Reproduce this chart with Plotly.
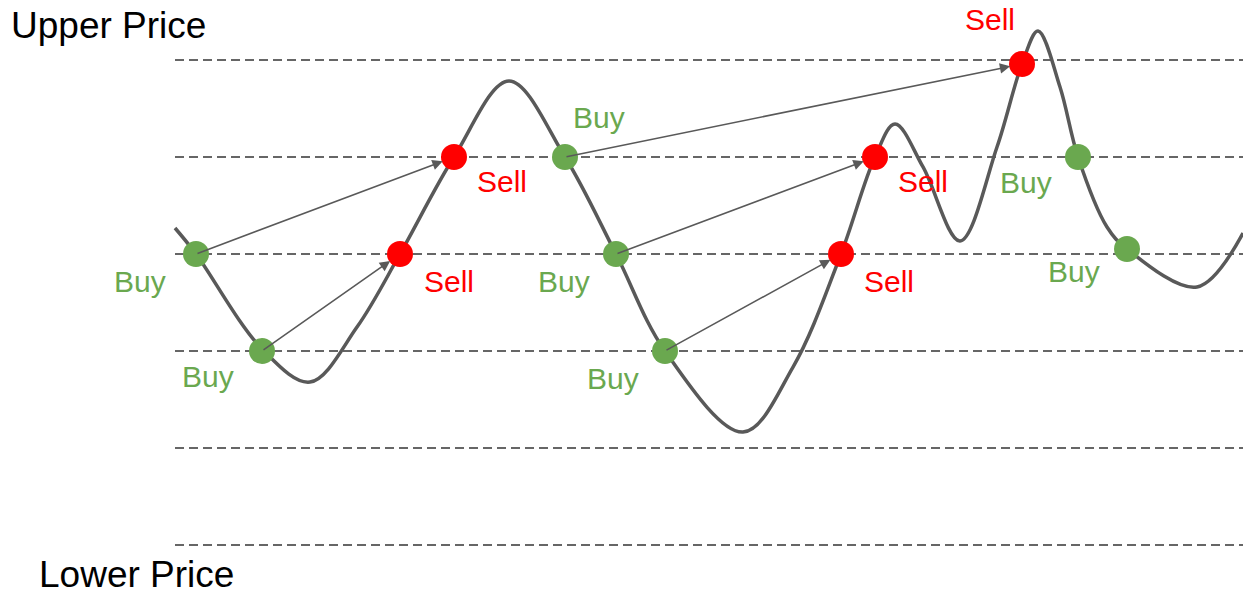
import plotly.graph_objects as go

# price grid levels (0 = lower price, 5 = upper price)
levels = [0, 1, 2, 3, 4, 5]

# price path (time, price level) - key points of the price curve
path_t = [175, 196, 262, 310, 357, 400, 454, 509, 565, 616, 665, 743, 793, 841, 875, 895,
          923, 960, 997, 1022, 1038, 1060, 1078, 1107, 1127, 1197, 1243]
path_p = [3.268, 3.0, 2.021, 1.680, 2.247, 3.0, 4.0, 4.784, 4.0, 3.0, 2.0, 1.165, 1.835,
          3.0, 4.0, 4.340, 3.897, 3.134, 4.103, 4.959, 5.299, 4.722, 4.0, 3.278, 3.052,
          2.660, 3.216]

buy_t = [196, 262, 565, 616, 665, 1078, 1127]
buy_p = [3.0, 2.0, 4.0, 3.0, 2.0, 4.0, 3.052]
sell_t = [400, 454, 841, 875, 1022]
sell_p = [3.0, 4.0, 3.0, 4.0, 4.959]

# trades: (buy time, buy price) -> (sell time, sell price)
trades = [((196, 3.0), (454, 4.0)), ((262, 2.0), (400, 3.0)), ((565, 4.0), (1022, 4.959)),
          ((616, 3.0), (875, 4.0)), ((665, 2.0), (841, 3.0))]

buy_label_t = [140, 208, 599, 564, 613, 1026, 1074]
buy_label_p = [2.72, 1.74, 4.41, 2.72, 1.72, 3.74, 2.82]
sell_label_t = [449, 502, 889, 923, 990]
sell_label_p = [2.72, 3.75, 2.72, 3.75, 5.42]

GREEN = "#6aa84f"
RED = "#ff0000"
GRAY = "#595959"
FONT = "Liberation Sans, Arial, sans-serif"

PX0 = 545.0
STEP = 97.0
def lvl(px):
    return (PX0 - px) / STEP

fig = go.Figure()

for L in levels:
    fig.add_shape(type="line", x0=175, x1=1243, y0=L, y1=L,
                  line=dict(color="#666666", width=2, dash="9px,5px"), layer="below")

fig.add_trace(go.Scatter(x=path_t, y=path_p, mode="lines",
                         line=dict(color=GRAY, width=3.5, shape="spline", smoothing=1.0),
                         hoverinfo="skip", showlegend=False))

for (bt, bp), (st, sp) in trades:
    fig.add_annotation(x=st, y=sp, ax=bt, ay=bp, xref="x", yref="y", axref="x", ayref="y",
                       text="", showarrow=True, arrowhead=2, arrowsize=1.3, arrowwidth=1.6,
                       arrowcolor=GRAY, standoff=12)

fig.add_trace(go.Scatter(x=buy_t, y=buy_p, mode="markers",
                         marker=dict(color=GREEN, size=26), hoverinfo="skip", showlegend=False))
fig.add_trace(go.Scatter(x=sell_t, y=sell_p, mode="markers",
                         marker=dict(color=RED, size=26), hoverinfo="skip", showlegend=False))

for t, p in zip(buy_label_t, buy_label_p):
    fig.add_annotation(x=t, y=p, text="Buy", showarrow=False,
                       font=dict(family=FONT, size=30, color=GREEN))
for t, p in zip(sell_label_t, sell_label_p):
    fig.add_annotation(x=t, y=p, text="Sell", showarrow=False,
                       font=dict(family=FONT, size=30, color=RED))

fig.add_annotation(x=108, y=lvl(25), text="Upper Price", showarrow=False,
                   font=dict(family=FONT, size=37, color="black"))
fig.add_annotation(x=136, y=lvl(574), text="Lower Price", showarrow=False,
                   font=dict(family=FONT, size=37, color="black"))

fig.update_layout(width=1243, height=591, margin=dict(l=0, r=0, t=0, b=0),
                  paper_bgcolor="white", plot_bgcolor="white",
                  xaxis=dict(range=[0, 1243], visible=False, fixedrange=True),
                  yaxis=dict(range=[lvl(591), lvl(0)], visible=False, fixedrange=True))

fig.write_html("out.html", config={"displayModeBar": False},
               post_script="document.body.style.margin='0';document.body.style.overflow='hidden';")
